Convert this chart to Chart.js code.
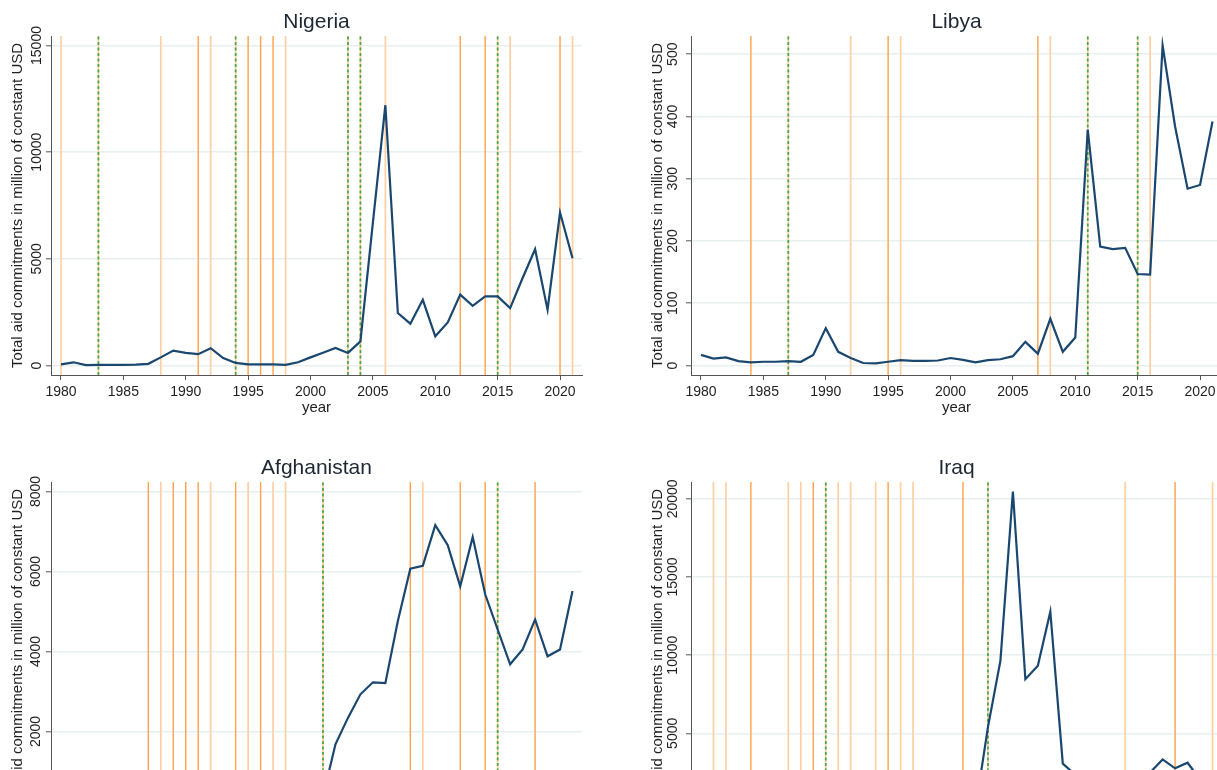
<!DOCTYPE html>
<html>
<head>
<meta charset="utf-8">
<script src="https://cdn.jsdelivr.net/npm/chart.js@4.4.1/dist/chart.umd.min.js"></script>
<style>
html,body{margin:0;padding:0;background:#fff;overflow:hidden;width:1217px;height:770px;position:relative;}
.panel{position:absolute;width:610px;height:446px;}
</style>
</head>
<body>
<div class="panel" style="left:0px;top:0px"><canvas id="cNigeria" width="610" height="446"></canvas></div>
<div class="panel" style="left:640px;top:0px"><canvas id="cLibya" width="610" height="446"></canvas></div>
<div class="panel" style="left:0px;top:446px"><canvas id="cAfghanistan" width="610" height="446"></canvas></div>
<div class="panel" style="left:640px;top:446px"><canvas id="cIraq" width="610" height="446"></canvas></div>
<script>
// ---------- data ----------
const years = [1980,1981,1982,1983,1984,1985,1986,1987,1988,1989,
               1990,1991,1992,1993,1994,1995,1996,1997,1998,1999,
               2000,2001,2002,2003,2004,2005,2006,2007,2008,2009,
               2010,2011,2012,2013,2014,2015,2016,2017,2018,2019,
               2020,2021];
const xTicks = [1980,1985,1990,1995,2000,2005,2010,2015,2020];

const nigeriaAid = [50,150,20,30,30,30,40,80,380,700,
                    590,530,810,350,120,50,50,50,30,150,
                    380,600,820,590,1130,6700,12200,2460,1960,3080,
                    1370,2020,3320,2800,3240,3240,2690,4100,5450,2620,
                    7170,5030];
const libyaAid = [17,11,13,7,5,6,6,7,6,17,
                  60,22,12,4,3.5,6,8.5,7.5,7.5,8,
                  12,9,5,8.5,10,15,38,19,75,22,
                  45,379,191,187,189,147,146,514,384,284,
                  290,392];
const afghanistanAid = [40,30,30,50,60,70,90,120,160,300,
                        350,280,260,240,220,260,200,180,190,160,
                        170,380,1680,2340,2930,3230,3210,4760,6070,6140,
                        7160,6660,5630,6860,5430,4550,3680,4050,4800,3880,
                        4050,5510];
const iraqAid = [30,40,40,30,20,20,30,30,40,40,
                 60,500,700,400,300,250,200,250,300,350,
                 400,500,150,5400,9640,20470,8460,9320,12780,3060,
                 2350,1700,1500,1500,1400,1900,2500,3330,2760,3120,
                 2050,2200];

const nigeriaYTicks = [0,5000,10000,15000];
const libyaYTicks = [0,100,200,300,400,500];
const afghanistanYTicks = [0,2000,4000,6000,8000];
const iraqYTicks = [0,5000,10000,15000,20000];

const nigeriaEventsDark = [1991,1995,1996,1997,2012,2014,2020];
const nigeriaEventsLight = [1980,1988,1992,1998,2006,2016,2021];
const nigeriaEventsGreen = [1983,1994,2003,2004,2015];

const libyaEventsDark = [1984,1995,2007];
const libyaEventsLight = [1992,1996,2008,2016];
const libyaEventsGreen = [1987,2011,2015];

const afghanistanEventsDark = [1987,1989,1990,1991,1994,1996,2008,2012,2014,2018];
const afghanistanEventsLight = [1988,1992,1995,1997,1998,2009];
const afghanistanEventsGreen = [2001,2015];

const iraqEventsDark = [1984,1989,1995,2001,2018];
const iraqEventsLight = [1981,1982,1987,1988,1991,1992,1994,1996,1997,2014,2021];
const iraqEventsGreen = [1990,2003];

const yTitle = 'Total aid commitments in million of constant USD';
const xTitle = 'year';

// ---------- styling ----------
const FONT = '"Liberation Sans", Arial, sans-serif';
const TEXT = '#1f1f1f';
const AXIS = '#555555';
const GRID = '#e7eff1';
const LINE = '#1a476f';
const ORANGE_DARK = '#ffa24a';
const ORANGE_LIGHT = '#ffcfa2';
const GREEN = '#45a845';

const X_MIN = 1979.2, X_MAX = 2021.76;
const PLOT_H = 339, PAD_PX = 9.5;

const measure = document.createElement('canvas').getContext('2d');
measure.font = '14px ' + FONT;

function vlines(ev, lo, hi) {
  const pts = [];
  ev.forEach(e => { pts.push({x: e, y: lo}, {x: e, y: hi}, {x: e, y: null}); });
  return pts;
}

function makePanel(id, title, values, yTicks, dark, light, green, tickOffset) {
  const dataMax = Math.max(...values);
  const hi = Math.max(yTicks[yTicks.length - 1], dataMax);
  const lo = 0;
  const upp = (hi - lo) / (PLOT_H - 2 * PAD_PX);
  const yMin = lo - PAD_PX * upp;
  const yMax = hi + PAD_PX * upp;
  const widest = Math.max(...yTicks.map(v => measure.measureText(String(v)).width));
  const yPad = tickOffset - 5 - widest / 2;

  new Chart(document.getElementById(id), {
    type: 'line',
    data: {
      datasets: [
        {data: years.map((y, i) => ({x: y, y: values[i]})), borderColor: LINE, borderWidth: 2.2,
         pointRadius: 0, tension: 0, order: 0, fill: false},
        {data: vlines(green, yMin, yMax), borderColor: GREEN, borderWidth: 1.7, borderDash: [3, 2.5],
         pointRadius: 0, spanGaps: false, order: 1, fill: false},
        {data: vlines(green, yMin, yMax), borderColor: ORANGE_LIGHT, borderWidth: 1.7,
         pointRadius: 0, spanGaps: false, order: 2, fill: false},
        {data: vlines(light, yMin, yMax), borderColor: ORANGE_LIGHT, borderWidth: 1.7,
         pointRadius: 0, spanGaps: false, order: 3, fill: false},
        {data: vlines(dark, yMin, yMax), borderColor: ORANGE_DARK, borderWidth: 1.4,
         pointRadius: 0, spanGaps: false, order: 4, fill: false}
      ]
    },
    options: {
      responsive: false,
      animation: false,
      events: [],
      layout: {padding: {left: 0, right: 28, top: 0, bottom: 0}},
      plugins: {
        legend: {display: false},
        tooltip: {enabled: false},
        title: {display: true, text: title, fullSize: false, color: '#1d2633',
                font: {family: FONT, size: 21, weight: 'normal', lineHeight: 1.2},
                padding: {top: 9.4, bottom: 1.4}}
      },
      scales: {
        x: {
          type: 'linear', position: 'bottom', min: X_MIN, max: X_MAX,
          afterBuildTicks: s => { s.ticks = xTicks.map(v => ({value: v})); },
          afterFit: s => { s.height = 71; },
          grid: {drawOnChartArea: false, drawTicks: true, tickLength: 5, tickColor: AXIS, tickWidth: 1},
          border: {display: true, color: AXIS, width: 1},
          ticks: {autoSkip: false, maxRotation: 0, minRotation: 0, padding: 3.6, color: TEXT,
                  font: {family: FONT, size: 14, lineHeight: 1.2}, callback: v => String(v)},
          title: {display: true, text: xTitle, color: TEXT,
                  font: {family: FONT, size: 15, lineHeight: 1.2}, padding: {top: 0, bottom: 29}}
        },
        y: {
          type: 'linear', position: 'left', min: yMin, max: yMax,
          afterBuildTicks: s => { s.ticks = yTicks.map(v => ({value: v})); },
          afterFit: s => { s.width = 51; },
          grid: {color: GRID, lineWidth: 1.6, drawTicks: true, tickLength: 5, tickColor: AXIS, tickWidth: 1},
          border: {display: true, color: AXIS, width: 1},
          ticks: {autoSkip: false, minRotation: 90, maxRotation: 90, crossAlign: 'center', padding: yPad,
                  color: TEXT, font: {family: FONT, size: 14, lineHeight: 1.2}, callback: v => String(v)},
          title: {display: true, text: yTitle, color: TEXT,
                  font: {family: FONT, size: 15, lineHeight: 1.2}, padding: {top: 9, bottom: 0}}
        }
      }
    }
  });
}

makePanel('cNigeria', 'Nigeria', nigeriaAid, nigeriaYTicks, nigeriaEventsDark, nigeriaEventsLight, nigeriaEventsGreen, 14);
makePanel('cLibya', 'Libya', libyaAid, libyaYTicks, libyaEventsDark, libyaEventsLight, libyaEventsGreen, 17.5);
makePanel('cAfghanistan', 'Afghanistan', afghanistanAid, afghanistanYTicks, afghanistanEventsDark, afghanistanEventsLight, afghanistanEventsGreen, 15);
makePanel('cIraq', 'Iraq', iraqAid, iraqYTicks, iraqEventsDark, iraqEventsLight, iraqEventsGreen, 17.5);
</script>
</body>
</html>
